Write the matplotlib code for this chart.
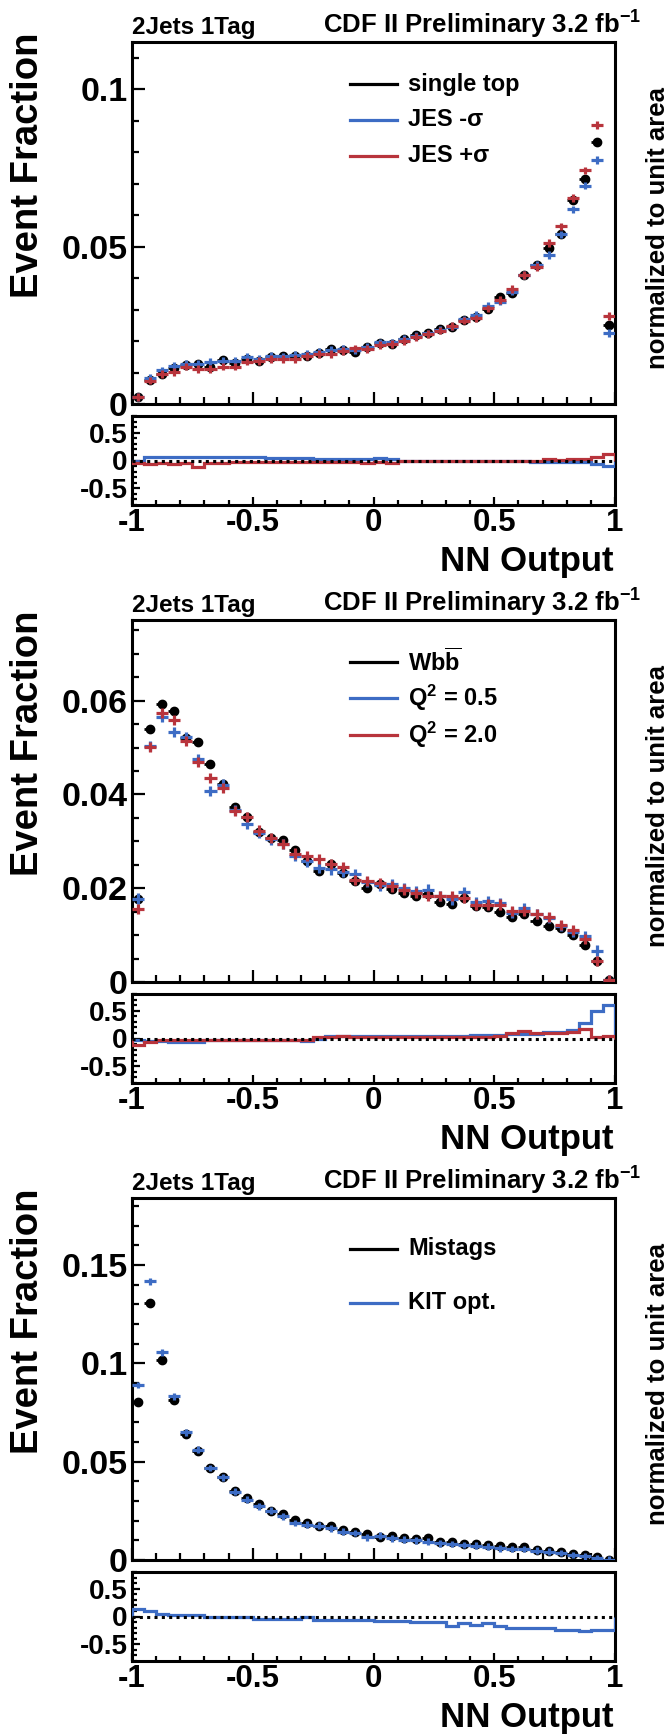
import matplotlib
matplotlib.use("Agg")
import matplotlib.pyplot as plt
import numpy as np
from matplotlib.lines import Line2D
from matplotlib.ticker import MultipleLocator, FixedLocator, FixedFormatter

plt.rcParams['font.family'] = ['Liberation Sans', 'DejaVu Sans']
plt.rcParams['font.weight'] = 'bold'
plt.rcParams['mathtext.fontset'] = 'custom'
plt.rcParams['mathtext.rm'] = 'Liberation Sans:bold'
plt.rcParams['mathtext.bf'] = 'Liberation Sans:bold'
plt.rcParams['mathtext.it'] = 'Liberation Sans:bold:italic'
plt.rcParams['mathtext.sf'] = 'Liberation Sans:bold'

# ---------------- data ----------------
bin_edges = np.linspace(-1.0, 1.0, 41)

# Panel 1: single top, JES variations
st_nominal = [0.0022, 0.0077, 0.0096, 0.0114, 0.0124, 0.0127, 0.0117, 0.0140, 0.0130, 0.0143,
              0.0137, 0.0149, 0.0151, 0.0154, 0.0151, 0.0161, 0.0174, 0.0170, 0.0165, 0.0182,
              0.0195, 0.0191, 0.0206, 0.0219, 0.0227, 0.0238, 0.0244, 0.0268, 0.0275, 0.0302,
              0.0340, 0.0354, 0.0409, 0.0443, 0.0494, 0.0541, 0.0647, 0.0715, 0.0833, 0.0251]
st_jes_minus = [0.0022, 0.0082, 0.0107, 0.0121, 0.0128, 0.0128, 0.0135, 0.0138, 0.0136, 0.0149,
                0.0144, 0.0153, 0.0151, 0.0156, 0.0160, 0.0165, 0.0172, 0.0175, 0.0172, 0.0182,
                0.0196, 0.0196, 0.0208, 0.0216, 0.0224, 0.0236, 0.0246, 0.0269, 0.0283, 0.0312,
                0.0325, 0.0357, 0.0409, 0.0441, 0.0473, 0.0539, 0.0618, 0.0694, 0.0775, 0.0225]
st_jes_plus = [0.0022, 0.0074, 0.0096, 0.0101, 0.0119, 0.0112, 0.0112, 0.0119, 0.0119, 0.0135,
               0.0137, 0.0143, 0.0143, 0.0143, 0.0153, 0.0158, 0.0159, 0.0169, 0.0177, 0.0174,
               0.0188, 0.0191, 0.0200, 0.0212, 0.0222, 0.0233, 0.0248, 0.0265, 0.0272, 0.0304,
               0.0330, 0.0365, 0.0409, 0.0436, 0.0512, 0.0564, 0.0654, 0.0742, 0.0886, 0.0280]
st_ratio_minus = [0.0, 0.065, 0.065, 0.065, 0.065, 0.065, 0.065, 0.065, 0.065, 0.065,
                  0.065, 0.04, 0.04, 0.04, 0.04, 0.02, 0.02, 0.02, 0.02, 0.02,
                  0.05, 0.02, 0.0, 0.0, 0.0, 0.0, 0.0, 0.0, 0.0, 0.0,
                  0.0, 0.0, 0.0, -0.02, -0.02, -0.02, -0.02, -0.02, -0.06, -0.10]
st_ratio_plus = [-0.04, -0.07, -0.04, -0.07, -0.04, -0.11, -0.04, -0.04, -0.03, -0.03,
                 -0.03, -0.03, -0.03, -0.03, -0.03, -0.03, -0.02, -0.02, -0.02, -0.05,
                 -0.02, -0.04, -0.01, -0.01, -0.01, -0.01, -0.01, -0.01, -0.01, -0.01,
                 -0.01, 0.0, 0.0, 0.0, 0.03, 0.01, 0.02, 0.02, 0.06, 0.12]

# Panel 2: Wbb, Q^2 variations
wbb_nominal = [0.0178, 0.0540, 0.0593, 0.0578, 0.0520, 0.0512, 0.0465, 0.0422, 0.0374, 0.0352,
               0.0319, 0.0307, 0.0303, 0.0281, 0.0259, 0.0236, 0.0252, 0.0233, 0.0216, 0.0201,
               0.0208, 0.0199, 0.0190, 0.0184, 0.0187, 0.0171, 0.0167, 0.0179, 0.0162, 0.0160,
               0.0150, 0.0139, 0.0144, 0.0131, 0.0119, 0.0116, 0.0101, 0.0078, 0.0045, 0.0004]
wbb_q2_05 = [0.0178, 0.0503, 0.0566, 0.0533, 0.0523, 0.0476, 0.0408, 0.0421, 0.0367, 0.0338,
             0.0318, 0.0304, 0.0295, 0.0268, 0.0257, 0.0243, 0.0240, 0.0235, 0.0230, 0.0213,
             0.0206, 0.0208, 0.0201, 0.0194, 0.0197, 0.0183, 0.0176, 0.0192, 0.0170, 0.0172,
             0.0169, 0.0148, 0.0158, 0.0145, 0.0137, 0.0119, 0.0106, 0.0098, 0.0067, 0.0004]
wbb_q2_20 = [0.0156, 0.0501, 0.0573, 0.0559, 0.0514, 0.0469, 0.0435, 0.0413, 0.0364, 0.0352,
             0.0323, 0.0307, 0.0294, 0.0274, 0.0268, 0.0263, 0.0252, 0.0245, 0.0218, 0.0216,
             0.0211, 0.0204, 0.0197, 0.0190, 0.0183, 0.0184, 0.0183, 0.0179, 0.0165, 0.0165,
             0.0165, 0.0151, 0.0152, 0.0145, 0.0139, 0.0121, 0.0111, 0.0092, 0.0045, 0.0004]
wbb_ratio_05 = [-0.02, -0.05, -0.05, -0.065, -0.065, -0.065, -0.02, -0.02, -0.02, -0.02,
                -0.02, -0.02, -0.02, -0.02, -0.05, 0.0, 0.04, 0.04, 0.04, 0.04,
                0.04, 0.04, 0.05, 0.05, 0.05, 0.05, 0.05, 0.05, 0.07, 0.07,
                0.07, 0.08, 0.08, 0.08, 0.12, 0.12, 0.15, 0.27, 0.49, 0.61]
wbb_ratio_20 = [-0.12, -0.06, -0.03, -0.03, -0.03, -0.03, -0.03, -0.02, -0.02, -0.02,
                -0.02, -0.02, -0.02, -0.02, -0.02, 0.03, 0.03, 0.05, 0.03, 0.03,
                0.03, 0.03, 0.03, 0.03, 0.03, 0.03, 0.03, 0.03, 0.03, 0.03,
                0.05, 0.09, 0.13, 0.09, 0.10, 0.10, 0.12, 0.17, 0.03, 0.04]

# Panel 3: Mistags, KIT opt.
mis_nominal = [0.0802, 0.1306, 0.1019, 0.0814, 0.0638, 0.0553, 0.0466, 0.0420, 0.0353, 0.0315,
               0.0285, 0.0248, 0.0234, 0.0205, 0.0187, 0.0175, 0.0171, 0.0154, 0.0141, 0.0132,
               0.0119, 0.0120, 0.0112, 0.0107, 0.0110, 0.0093, 0.0093, 0.0081, 0.0081, 0.0076,
               0.0073, 0.0064, 0.0064, 0.0053, 0.0047, 0.0042, 0.0031, 0.0025, 0.0017, 0.0002]
mis_kit = [0.0890, 0.1417, 0.1056, 0.0832, 0.0649, 0.0561, 0.0468, 0.0420, 0.0348, 0.0307,
           0.0273, 0.0251, 0.0222, 0.0188, 0.0180, 0.0175, 0.0161, 0.0144, 0.0137, 0.0115,
           0.0124, 0.0110, 0.0103, 0.0100, 0.0093, 0.0085, 0.0081, 0.0076, 0.0073, 0.0068,
           0.0059, 0.0056, 0.0056, 0.0047, 0.0042, 0.0036, 0.0025, 0.0019, 0.0010, 0.0002]
mis_ratio_kit = [0.13, 0.09, 0.04, 0.03, 0.03, 0.03, 0.0, -0.01, -0.01, -0.01,
                 -0.04, -0.04, -0.04, -0.04, 0.0, -0.06, -0.06, -0.06, -0.06, -0.06,
                 -0.08, -0.08, -0.08, -0.10, -0.10, -0.10, -0.17, -0.125, -0.155, -0.125,
                 -0.17, -0.20, -0.20, -0.20, -0.20, -0.24, -0.24, -0.26, -0.24, -0.24]

x_tick_labels = ['-1', '-0.5', '0', '0.5', '1']
ratio_tick_labels = ['-0.5', '0', '0.5']

BLUE = '#3D6CC4'
RED = '#B8343C'

panels = [
    dict(nom=st_nominal, vars=[st_jes_minus, st_jes_plus], colors=[BLUE, RED],
         ratios=[st_ratio_minus, st_ratio_plus], names=['single top', r'JES -σ', r'JES +σ'],
         err=0.0012, ymax=0.115, minor=0.01,
         yticks=[0, 0.05, 0.1], ylabels=['0', '0.05', '0.1'], leg_dy=[42, 78, 114]),
    dict(nom=wbb_nominal, vars=[wbb_q2_05, wbb_q2_20], colors=[BLUE, RED],
         ratios=[wbb_ratio_05, wbb_ratio_20],
         names=[r'Wb$\overline{\mathrm{b}}$', r'Q$^{2}$ = 0.5', r'Q$^{2}$ = 2.0'],
         err=0.0011, ymax=0.0772, minor=0.005,
         yticks=[0, 0.02, 0.04, 0.06], ylabels=['0', '0.02', '0.04', '0.06'], leg_dy=[42, 78, 115]),
    dict(nom=mis_nominal, vars=[mis_kit], colors=[BLUE],
         ratios=[mis_ratio_kit], names=['Mistags', 'KIT opt.'],
         err=0.0017, ymax=0.184, minor=0.01,
         yticks=[0, 0.05, 0.1, 0.15], ylabels=['0', '0.05', '0.1', '0.15'], leg_dy=[51, 105]),
]

# ---------------- figure ----------------
W, H = 672, 1734
fig = plt.figure(figsize=(W / 100, H / 100), dpi=100)


def fx(px):
    return px / W


def fy(py):
    return 1 - py / H


def add_ax(l, t, r, b):
    return fig.add_axes([l / W, 1 - b / H, (r - l) / W, (b - t) / H])


centers = 0.5 * (bin_edges[:-1] + bin_edges[1:])
half = 0.5 * (bin_edges[1] - bin_edges[0])
SPINE_W = 2.2

for i, p in enumerate(panels):
    off = 578 * i
    ax = add_ax(132, 42 + off, 615, 404 + off)
    rx = add_ax(132, 416 + off, 615, 505 + off)

    # main panel
    eb = ax.errorbar(centers, p['nom'], xerr=half, fmt='o', color='k', ms=6,
                     elinewidth=2.0, capsize=0, zorder=3)
    eb[2][0].set_linestyle((0, (1.0, 1.6)))
    for v, c in zip(p['vars'], p['colors']):
        ax.errorbar(centers, v, xerr=half, yerr=p['err'], fmt='none', ecolor=c,
                    elinewidth=2.3, capsize=0, zorder=4)
    ax.set_xlim(-1, 1)
    ax.set_ylim(0, p['ymax'])
    ax.xaxis.set_major_locator(MultipleLocator(0.5))
    ax.xaxis.set_minor_locator(MultipleLocator(0.1))
    ax.yaxis.set_major_locator(FixedLocator(p['yticks']))
    ax.yaxis.set_major_formatter(FixedFormatter(p['ylabels']))
    ax.yaxis.set_minor_locator(MultipleLocator(p['minor']))
    ax.tick_params(axis='both', which='both', direction='in', top=False, right=False,
                   width=1.6, labelbottom=False)
    ax.tick_params(axis='both', which='major', length=9)
    ax.tick_params(axis='both', which='minor', length=5)
    ax.tick_params(axis='y', which='major', labelsize=24.5, pad=3)
    for s in ax.spines.values():
        s.set_linewidth(SPINE_W)

    # ratio panel
    for r, c in zip(p['ratios'], p['colors']):
        rx.stairs(r, bin_edges, color=c, lw=2.3, zorder=3)
    rx.axhline(0, color='k', ls=(0, (1.0, 1.4)), lw=2.2, zorder=4)
    rx.set_xlim(-1, 1)
    rx.set_ylim(-0.8, 0.8)
    rx.xaxis.set_major_locator(FixedLocator([-1, -0.5, 0, 0.5, 1]))
    rx.xaxis.set_major_formatter(FixedFormatter(x_tick_labels))
    rx.xaxis.set_minor_locator(MultipleLocator(0.1))
    rx.yaxis.set_major_locator(FixedLocator([-0.5, 0, 0.5]))
    rx.yaxis.set_major_formatter(FixedFormatter(ratio_tick_labels))
    rx.yaxis.set_minor_locator(MultipleLocator(0.1))
    rx.tick_params(axis='both', which='both', direction='in', top=False, right=False, width=1.6)
    rx.tick_params(axis='both', which='major', length=6)
    rx.tick_params(axis='both', which='minor', length=3.5)
    rx.tick_params(axis='x', which='major', labelsize=22.5, pad=2)
    rx.tick_params(axis='y', which='major', labelsize=20, pad=3)
    for s in rx.spines.values():
        s.set_linewidth(SPINE_W)

    # texts
    fig.text(fx(132), fy(34 + off), '2Jets 1Tag', fontsize=17.5, ha='left', va='baseline')
    fig.text(fx(641), fy(34 + off), r'CDF II Preliminary 3.2 fb$^{-1}$', fontsize=18.5,
             ha='right', va='baseline')
    fig.text(fx(28), fy(33 + off), 'Event Fraction', fontsize=27.5, rotation=90,
             ha='center', va='top')
    fig.text(fx(658), fy(228 + off), 'normalized to unit area', fontsize=18.5, rotation=90,
             ha='center', va='center')
    fig.text(fx(614), fy(571 + off), 'NN Output', fontsize=25, ha='right', va='baseline')

    # legend
    leg_colors = ['k'] + p['colors']
    for name, c, dy in zip(p['names'], leg_colors, p['leg_dy']):
        yy = fy(42 + off + dy)
        fig.add_artist(Line2D([fx(350), fx(397)], [yy, yy], color=c, lw=2.3,
                              transform=fig.transFigure))
        fig.text(fx(408), yy, name, fontsize=17, ha='left', va='center')

fig.savefig('out.png', dpi=100)
